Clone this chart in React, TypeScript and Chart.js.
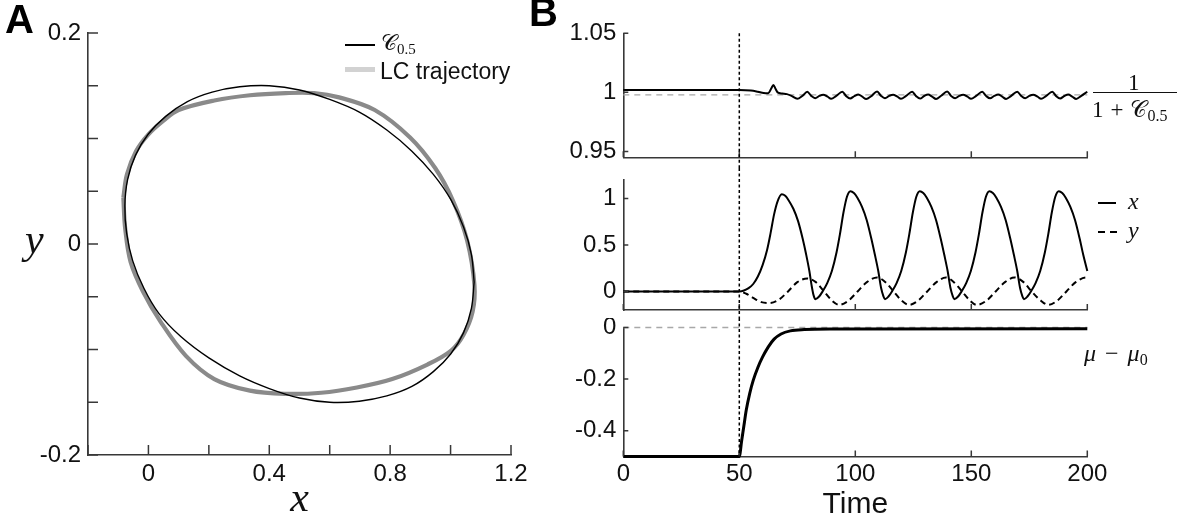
import React, { useEffect, useRef } from 'react';
import { Chart, registerables } from 'chart.js';

Chart.register(...registerables);

const SANS = '"Liberation Sans", Arial, Helvetica, sans-serif';
const SERIF = '"Liberation Serif", "Times New Roman", serif';
const AXIS = '#383838';

// ---------------- Panel A data ----------------
const c05X = [1.078, 1.069, 1.043, 1.001, 0.943, 0.872, 0.789, 0.698, 0.6, 0.5, 0.4, 0.302, 0.211, 0.129, 0.057, -0.001, -0.043, -0.069, -0.078, -0.072, -0.052, -0.015, 0.035, 0.108, 0.2, 0.302, 0.4, 0.5, 0.6, 0.698, 0.789, 0.872, 0.943, 1.001, 1.043, 1.069, 1.078];
const c05Y = [-0.036, -0.01, 0.016, 0.042, 0.066, 0.088, 0.108, 0.125, 0.137, 0.146, 0.15, 0.149, 0.144, 0.135, 0.121, 0.104, 0.084, 0.061, 0.036, 0.01, -0.016, -0.042, -0.066, -0.088, -0.108, -0.125, -0.137, -0.146, -0.15, -0.149, -0.144, -0.135, -0.121, -0.104, -0.084, -0.061, -0.036];

const lcX = [-0.083, -0.071, -0.041, 0.0, 0.05, 0.1, 0.218, 0.336, 0.454, 0.548, 0.631, 0.749, 0.866, 0.949, 1.008, 1.055, 1.079, 1.073, 1.043, 1.002, 0.925, 0.807, 0.69, 0.572, 0.454, 0.336, 0.218, 0.124, 0.041, -0.018, -0.059, -0.077, -0.083];
const lcY = [0.044, 0.066, 0.088, 0.104, 0.117, 0.127, 0.136, 0.141, 0.143, 0.143, 0.139, 0.127, 0.101, 0.072, 0.041, 0.003, -0.039, -0.064, -0.086, -0.101, -0.114, -0.128, -0.136, -0.141, -0.142, -0.139, -0.128, -0.106, -0.074, -0.045, -0.017, 0.015, 0.044];

const aXTicks = [-0.2, 0, 0.2, 0.4, 0.6, 0.8, 1.0, 1.2];
const aXTickLabels = ['', '0', '', '0.4', '', '0.8', '', '1.2'];
const aYTicks = [-0.2, -0.15, -0.1, -0.05, 0, 0.05, 0.1, 0.15, 0.2];
const aYTickLabels = ['-0.2', '', '', '', '0', '', '', '', '0.2'];

// ---------------- Panel B data ----------------
const timeTicks = [0, 50, 100, 150, 200];
const timeTickLabels = ['0', '50', '100', '150', '200'];
const stimTime = 50;

const normT = [0, 50, 55, 58, 60.5, 62.5, 63.7, 64.7, 65.6, 66.5, 68.5, 70.5, 72.5, 75, 77.2, 79.3,
  81.0, 82.7, 84.5, 86.2, 87.9, 89.6, 91.8, 94.4,
  96.1, 97.8, 99.6, 101.3, 103.0, 104.7, 106.9, 109.4,
  111.1, 112.8, 114.6, 116.3, 118.0, 119.7, 121.9, 124.5,
  126.2, 127.9, 129.7, 131.4, 133.1, 134.8, 137.0, 139.6,
  141.3, 143.0, 144.8, 146.5, 148.2, 149.9, 152.1, 154.7,
  156.4, 158.1, 159.9, 161.6, 163.3, 165.0, 167.2, 169.8,
  171.5, 173.2, 175.0, 176.7, 178.4, 180.1, 182.3, 184.9,
  186.6, 188.3, 190.1, 191.8, 193.5, 195.2, 197.4, 200];
const normV = [1.002, 1.002, 1.0015, 1.0005, 0.9995, 0.9993, 1.003, 1.0062, 1.003, 1.0, 0.999, 0.9985, 0.997, 0.9945, 0.997, 1.0005,
  0.997, 0.995, 0.997, 0.998, 0.9965, 0.9945, 0.997, 1.0005,
  0.9968, 0.9948, 0.9968, 0.9982, 0.9963, 0.9943, 0.9968, 1.0008,
  0.997, 0.995, 0.997, 0.998, 0.9965, 0.9945, 0.997, 1.0005,
  0.9968, 0.9947, 0.9969, 0.9981, 0.9964, 0.9944, 0.9971, 1.0007,
  0.997, 0.995, 0.997, 0.998, 0.9965, 0.9945, 0.997, 1.0005,
  0.9969, 0.9949, 0.997, 0.9982, 0.9964, 0.9944, 0.997, 1.0006,
  0.997, 0.995, 0.997, 0.998, 0.9965, 0.9945, 0.997, 1.0005,
  0.9968, 0.9948, 0.9969, 0.9981, 0.9964, 0.9944, 0.997, 1.0005];
const normRef = 0.9978;
const normTicks = [0.95, 1, 1.05];
const normTickLabels = ['0.95', '1', '1.05'];

const xT = [0, 50, 52, 54, 56, 58, 60, 62, 63.5, 65, 66.5, 68.3, 69.8, 71.3, 73.3, 75.3, 77.3, 78.8, 80.2, 81.2, 82.0, 82.8,
  84.4, 85.9, 87.9, 89.9, 91.9, 93.4, 94.9, 96.4, 97.9, 99.4, 100.9, 102.9, 104.9, 106.9, 108.4, 109.9, 111.1, 112.1, 112.8,
  114.3, 115.8, 117.8, 119.8, 121.8, 123.3, 124.8, 126.3, 127.8, 129.3, 130.8, 132.8, 134.8, 136.8, 138.3, 139.8, 141.0, 142.0, 142.7,
  144.3, 145.8, 147.8, 149.8, 151.8, 153.3, 154.8, 156.3, 157.8, 159.3, 160.8, 162.8, 164.8, 166.8, 168.3, 169.8, 171.0, 172.0, 172.7,
  174.2, 175.7, 177.7, 179.7, 181.7, 183.2, 184.7, 186.2, 187.7, 189.2, 190.7, 192.7, 194.7, 196.7, 198.2, 200];
const xV = [0, 0, 0.01, 0.035, 0.08, 0.16, 0.28, 0.45, 0.63, 0.83, 0.97, 1.047, 1.03, 0.98, 0.89, 0.76, 0.57, 0.4, 0.22, 0.06, -0.04, -0.083,
  -0.055, 0.0, 0.09, 0.22, 0.42, 0.62, 0.85, 1.02, 1.08, 1.06, 1.01, 0.91, 0.77, 0.57, 0.4, 0.22, 0.04, -0.05, -0.083,
  -0.055, 0.0, 0.09, 0.22, 0.42, 0.62, 0.85, 1.02, 1.08, 1.06, 1.01, 0.91, 0.77, 0.57, 0.4, 0.22, 0.04, -0.05, -0.083,
  -0.055, 0.0, 0.09, 0.22, 0.42, 0.62, 0.85, 1.02, 1.08, 1.06, 1.01, 0.91, 0.77, 0.57, 0.4, 0.22, 0.04, -0.05, -0.083,
  -0.055, 0.0, 0.09, 0.22, 0.42, 0.62, 0.85, 1.02, 1.08, 1.06, 1.01, 0.91, 0.77, 0.57, 0.4, 0.22];

const yT = [0, 50, 53, 56, 59.5, 63, 67, 71, 75, 79.3, 83, 86.5, 90, 93.1, 97, 101, 105, 109.4, 113, 116.5, 120, 123.1, 127, 131, 135, 139.1, 142.5, 146, 149.5, 152.3, 156.5, 160.5, 164.5, 168.6, 172.5, 176, 180, 183.2, 187, 191, 195, 199.5, 200];
const yV = [0, 0, -0.025, -0.07, -0.115, -0.125, -0.09, 0.0, 0.1, 0.14, 0.1, 0.0, -0.1, -0.145, -0.1, 0.0, 0.1, 0.15, 0.1, 0.0, -0.1, -0.145, -0.1, 0.0, 0.1, 0.15, 0.1, 0.0, -0.1, -0.145, -0.1, 0.0, 0.1, 0.15, 0.1, 0.0, -0.1, -0.145, -0.1, 0.0, 0.1, 0.15, 0.15];
const oscTicks = [0, 0.5, 1];
const oscTickLabels = ['0', '0.5', '1'];

const muT = [0, 50, 51, 52, 53, 54.5, 56, 58, 60, 62.5, 65, 68, 72, 78, 90, 200];
const muV = [-0.5, -0.5, -0.44, -0.38, -0.32, -0.255, -0.205, -0.155, -0.115, -0.075, -0.045, -0.025, -0.013, -0.008, -0.006, -0.005];
const muRef = 0;
const muTicks = [-0.4, -0.2, 0];
const muTickLabels = ['-0.4', '-0.2', '0'];

// ---------------- helpers ----------------
const pts = (xs: number[], ys: number[]) => xs.map((x, i) => ({ x, y: ys[i] }));

type VLine = { value: number; top: 'area' | 'canvas'; bottom: 'area' | 'canvas' };

function axisDecor(xTicks: number[], yTicks: number[], xLen: number, yLen: number, vline?: VLine) {
  return {
    id: 'axisDecor',
    afterDraw(chart: any) {
      const { ctx, chartArea, scales } = chart;
      const xs = scales.x;
      const ys = scales.y;
      ctx.save();
      ctx.strokeStyle = AXIS;
      ctx.lineWidth = 1.5;
      ctx.beginPath();
      xTicks.forEach((v) => {
        const p = xs.getPixelForValue(v);
        ctx.moveTo(p, chartArea.bottom);
        ctx.lineTo(p, chartArea.bottom - xLen);
      });
      yTicks.forEach((v) => {
        const p = ys.getPixelForValue(v);
        ctx.moveTo(chartArea.left, p);
        ctx.lineTo(chartArea.left + yLen, p);
      });
      ctx.stroke();
      if (vline) {
        const px = xs.getPixelForValue(vline.value);
        const y0 = vline.top === 'area' ? chartArea.top : 0;
        const y1 = vline.bottom === 'area' ? chartArea.bottom : chart.height;
        ctx.strokeStyle = '#000';
        ctx.lineWidth = 1.5;
        ctx.setLineDash([3, 2.5]);
        ctx.beginPath();
        ctx.moveTo(px, y0);
        ctx.lineTo(px, y1);
        ctx.stroke();
      }
      ctx.restore();
    },
  };
}

function linScale(o: {
  min: number; max: number; ticks: number[]; labels: string[]; showLabels: boolean;
  size: number; horizontal: boolean; padding: number; title?: any;
}) {
  return {
    type: 'linear',
    min: o.min,
    max: o.max,
    afterBuildTicks: (s: any) => { s.ticks = o.ticks.map((v) => ({ value: v })); },
    afterFit: (s: any) => {
      if (o.horizontal) s.height = o.size; else s.width = o.size;
      s.paddingTop = 0; s.paddingBottom = 0; s.paddingLeft = 0; s.paddingRight = 0;
    },
    grid: { display: true, drawOnChartArea: false, drawTicks: false },
    border: { display: true, color: AXIS, width: 1.6 },
    ticks: {
      display: o.showLabels,
      autoSkip: false,
      maxRotation: 0,
      minRotation: 0,
      padding: o.padding,
      color: '#111',
      font: { family: SANS, size: 24 },
      callback: (_v: any, i: number) => o.labels[i],
    },
    title: o.title ?? { display: false },
  };
}

const baseOpts = {
  responsive: false,
  animation: false,
  devicePixelRatio: 1,
  events: [] as any[],
  plugins: { legend: { display: false }, tooltip: { enabled: false } },
};

function makePanelA(): any {
  return {
    type: 'scatter',
    data: {
      datasets: [
        { data: pts(c05X, c05Y), showLine: true, borderColor: '#000', borderWidth: 1.4, pointRadius: 0, tension: 0.35, clip: 6 },
        { data: pts(lcX, lcY), showLine: true, borderColor: '#8a8a8a', borderWidth: 4.2, pointRadius: 0, tension: 0.35, clip: 6 },
      ],
    },
    options: {
      ...baseOpts,
      layout: { padding: { left: 0, top: 33, right: 34, bottom: 0 } },
      scales: {
        x: linScale({
          min: -0.2, max: 1.2, ticks: aXTicks, labels: aXTickLabels, showLabels: true, size: 72, horizontal: true, padding: 5,
          title: { display: true, text: 'x', color: '#111', font: { family: SERIF, style: 'italic', size: 42 }, padding: { top: 0, bottom: 2 } },
        }),
        y: linScale({ min: -0.2, max: 0.2, ticks: aYTicks, labels: aYTickLabels, showLabels: true, size: 88, horizontal: false, padding: 7 }),
      },
    },
    plugins: [axisDecor(aXTicks, aYTicks, 10, 10)],
  };
}

function lineSet(xs: number[], ys: number[], color: string, width: number, dash: number[] = []) {
  return {
    data: pts(xs, ys), borderColor: color, borderWidth: width, borderDash: dash, pointRadius: 0,
    cubicInterpolationMode: 'monotone', fill: false, clip: 5,
  };
}

function makeTop(): any {
  return {
    type: 'line',
    data: {
      datasets: [
        lineSet(normT, normV, '#000', 2),
        lineSet([0, 200], [normRef, normRef], '#a8a8a8', 1.3, [6, 5]),
      ],
    },
    options: {
      ...baseOpts,
      layout: { padding: { left: 0, top: 33.3, right: 95.7, bottom: 0 } },
      scales: {
        x: linScale({ min: 0, max: 200, ticks: timeTicks, labels: timeTickLabels, showLabels: false, size: 10.7, horizontal: true, padding: 3 }),
        y: linScale({ min: 0.945, max: 1.05, ticks: normTicks, labels: normTickLabels, showLabels: true, size: 63.3, horizontal: false, padding: 7 }),
      },
    },
    plugins: [axisDecor(timeTicks, normTicks, 6, 5, { value: stimTime, top: 'area', bottom: 'canvas' })],
  };
}

function makeMid(): any {
  return {
    type: 'line',
    data: {
      datasets: [
        lineSet(xT, xV, '#000', 2),
        lineSet(yT, yV, '#000', 2, [6, 4]),
      ],
    },
    options: {
      ...baseOpts,
      layout: { padding: { left: 0, top: 12, right: 95.7, bottom: 0 } },
      scales: {
        x: linScale({ min: 0, max: 200, ticks: timeTicks, labels: timeTickLabels, showLabels: false, size: 8, horizontal: true, padding: 3 }),
        y: linScale({ min: -0.2, max: 1.2, ticks: oscTicks, labels: oscTickLabels, showLabels: true, size: 63.3, horizontal: false, padding: 7 }),
      },
    },
    plugins: [axisDecor(timeTicks, oscTicks, 6, 5, { value: stimTime, top: 'canvas', bottom: 'canvas' })],
  };
}

function makeBottom(): any {
  return {
    type: 'line',
    data: {
      datasets: [
        lineSet(muT, muV, '#000', 3),
        lineSet([0, 200], [muRef, muRef], '#a8a8a8', 1.3, [6, 5]),
      ],
    },
    options: {
      ...baseOpts,
      layout: { padding: { left: 0, top: 9.5, right: 95.7, bottom: 0 } },
      scales: {
        x: linScale({
          min: 0, max: 200, ticks: timeTicks, labels: timeTickLabels, showLabels: true, size: 70.5, horizontal: true, padding: 3,
          title: { display: true, text: 'Time', color: '#111', font: { family: SANS, size: 30 }, padding: { top: 0, bottom: 4 } },
        }),
        y: linScale({ min: -0.5, max: 0, ticks: muTicks, labels: muTickLabels, showLabels: true, size: 63.3, horizontal: false, padding: 7 }),
      },
    },
    plugins: [axisDecor(timeTicks, muTicks, 6, 5, { value: stimTime, top: 'canvas', bottom: 'area' })],
  };
}

function ChartCanvas(props: { left: number; top: number; width: number; height: number; make: () => any }) {
  const ref = useRef<HTMLCanvasElement>(null);
  useEffect(() => {
    const chart = new Chart(ref.current as HTMLCanvasElement, props.make());
    return () => chart.destroy();
  }, []);
  return (
    <div style={{ position: 'absolute', left: props.left, top: props.top, width: props.width, height: props.height }}>
      <canvas ref={ref} width={props.width} height={props.height} style={{ width: props.width, height: props.height, display: 'block' }} />
    </div>
  );
}

const abs = (left: number, top: number, extra: React.CSSProperties = {}): React.CSSProperties => ({
  position: 'absolute', left, top, whiteSpace: 'nowrap', color: '#111', ...extra,
});

const serifTxt = (size: number, italic = true): React.CSSProperties => ({
  fontFamily: SERIF, fontSize: size, lineHeight: `${size}px`, fontStyle: italic ? 'italic' : 'normal',
});

export default function App() {
  return (
    <div style={{ position: 'absolute', left: 0, top: 0, width: 1183, height: 527, background: '#fff', overflow: 'hidden' }}>
      <ChartCanvas left={0} top={0} width={545} height={527} make={makePanelA} />
      <ChartCanvas left={560} top={0} width={623} height={168} make={makeTop} />
      <ChartCanvas left={560} top={168} width={623} height={150} make={makeMid} />
      <ChartCanvas left={560} top={318} width={623} height={209} make={makeBottom} />

      {/* panel letters */}
      <div style={abs(5, -1, { fontFamily: SANS, fontWeight: 'bold', fontSize: 40, lineHeight: '40px', color: '#000' })}>A</div>
      <div style={abs(529, -8, { fontFamily: SANS, fontWeight: 'bold', fontSize: 40, lineHeight: '40px', color: '#000' })}>B</div>

      {/* panel A y label */}
      <div style={abs(25, 218, serifTxt(42))}>y</div>

      {/* panel A legend */}
      <div style={abs(345, 44.3, { width: 30, height: 1.5, background: '#000' })} />
      <div style={abs(381, 32, serifTxt(22, false))}>
        <span>𝒞</span><span style={{ fontSize: 15, position: 'relative', top: 4 }}>0.5</span>
      </div>
      <div style={abs(345, 67, { width: 30, height: 5, background: '#d2d2d2' })} />
      <div style={abs(380, 60, { fontFamily: SANS, fontSize: 23, lineHeight: '23px' })}>LC trajectory</div>

      {/* panel B top label: fraction */}
      <div style={abs(1128, 70.5, serifTxt(23, false))}>1</div>
      <div style={abs(1093, 91.5, { width: 84, height: 1.3, background: '#111' })} />
      <div style={abs(1092, 97.5, serifTxt(23, false))}>
        <span>1</span><span style={{ margin: '0 7px' }}>+</span><span>𝒞</span>
        <span style={{ fontSize: 16, position: 'relative', top: 4 }}>0.5</span>
      </div>

      {/* panel B middle legend */}
      <div style={abs(1098, 202.3, { width: 18, height: 2, background: '#000' })} />
      <div style={abs(1128, 189, serifTxt(24))}>x</div>
      <div style={abs(1098, 230.7, { width: 7, height: 2, background: '#000' })} />
      <div style={abs(1110, 230.7, { width: 7, height: 2, background: '#000' })} />
      <div style={abs(1128, 217.5, serifTxt(24))}>y</div>

      {/* panel B bottom label */}
      <div style={abs(1084, 341, serifTxt(24))}>
        <span>μ</span><span style={{ fontStyle: 'normal', margin: '0 9px' }}>−</span><span>μ</span>
        <span style={{ fontStyle: 'normal', fontSize: 16, position: 'relative', top: 4 }}>0</span>
      </div>
    </div>
  );
}
